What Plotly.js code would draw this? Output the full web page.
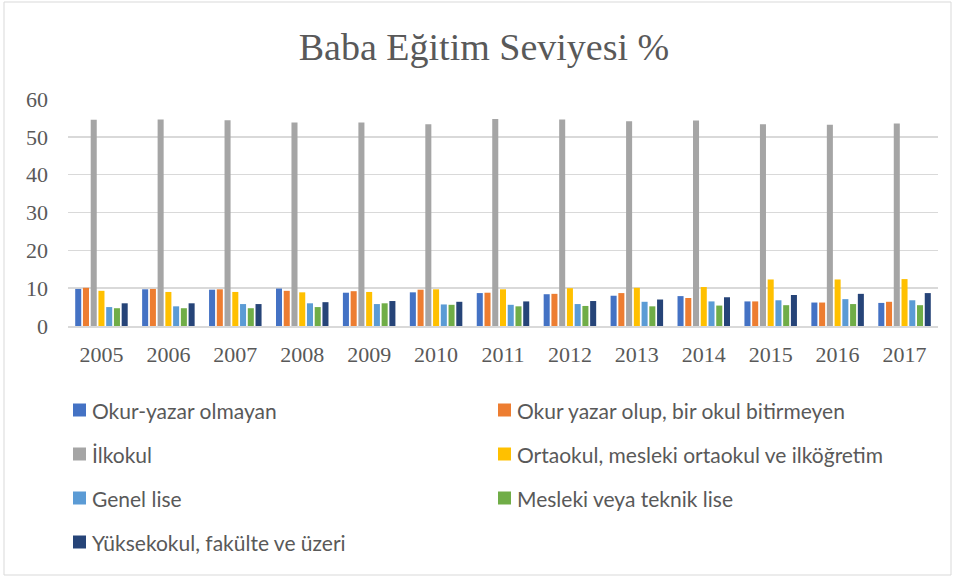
<!DOCTYPE html>
<html>
<head>
<meta charset="utf-8">
<script src="https://cdn.plot.ly/plotly-3.0.1.min.js"></script>
<style>
html,body{margin:0;padding:0;background:#fff;}
#chart{width:955px;height:578px;}
</style>
</head>
<body>
<div id="chart"></div>
<script>
const years = ['2005','2006','2007','2008','2009','2010','2011','2012','2013','2014','2015','2016','2017'];
const seriesNames = [
  'Okur-yazar olmayan',
  'Okur yazar olup, bir okul bitirmeyen',
  'İlkokul',
  'Ortaokul, mesleki ortaokul ve ilköğretim',
  'Genel lise',
  'Mesleki veya teknik lise',
  'Yüksekokul, fakülte ve üzeri'
];
const okurYazarOlmayan = [9.8, 9.7, 9.6, 9.9, 8.8, 8.9, 8.7, 8.4, 8.0, 7.9, 6.5, 6.2, 6.1];
const okulBitirmeyen   = [10.1, 9.8, 9.7, 9.3, 9.2, 9.6, 8.8, 8.5, 8.7, 7.4, 6.5, 6.2, 6.4];
const ilkokul          = [54.5, 54.6, 54.4, 53.8, 53.8, 53.3, 54.7, 54.6, 54.1, 54.3, 53.3, 53.2, 53.5];
const ortaokul         = [9.3, 9.0, 9.0, 8.9, 9.0, 9.7, 9.7, 10.0, 10.1, 10.3, 12.3, 12.3, 12.4];
const genelLise        = [5.0, 5.2, 5.8, 6.0, 5.8, 5.7, 5.6, 5.8, 6.4, 6.5, 6.8, 7.1, 6.8];
const meslekiLise      = [4.7, 4.7, 4.7, 5.0, 6.0, 5.6, 5.2, 5.3, 5.2, 5.4, 5.5, 5.8, 5.5];
const yuksekokul       = [6.0, 6.0, 5.8, 6.3, 6.6, 6.4, 6.5, 6.6, 7.0, 7.6, 8.2, 8.5, 8.7];
const yTicks = [0, 10, 20, 30, 40, 50, 60];

const seriesValues = [okurYazarOlmayan, okulBitirmeyen, ilkokul, ortaokul, genelLise, meslekiLise, yuksekokul];
const colors = ['#4472C4', '#ED7D31', '#A5A5A5', '#FFC000', '#5B9BD5', '#70AD47', '#264478'];

const traces = seriesNames.map((name, i) => ({
  type: 'bar',
  name: name,
  x: years,
  y: seriesValues[i],
  marker: {color: colors[i], line: {width: 0}},
  showlegend: false,
  hoverinfo: 'x+y+name'
}));

// Plot area in pixels
const L = 68, R = 938, T = 99, B = 326;
const W = R - L, H = B - T;
const px = v => (v - L) / W;
const py = v => (B - v) / H;

const legendCols = [73, 498];
const legendRows = [410, 454, 498, 542];
const shapes = [];
const annotations = [];
seriesNames.forEach((name, i) => {
  const cx = legendCols[i % 2];
  const cy = legendRows[Math.floor(i / 2)];
  shapes.push({
    type: 'rect', xref: 'paper', yref: 'paper',
    x0: px(cx), x1: px(cx + 13), y0: py(cy + 6.5), y1: py(cy - 6.5),
    fillcolor: colors[i], line: {width: 0}
  });
  annotations.push({
    xref: 'paper', yref: 'paper', x: px(cx + 17), y: py(cy),
    xanchor: 'left', yanchor: 'middle', showarrow: false,
    text: name,
    font: {family: 'Lato, "Liberation Sans", sans-serif', size: 21, color: '#595959'}
  });
});
// outer chart border
shapes.push({
  type: 'rect', xref: 'paper', yref: 'paper',
  x0: px(4), x1: px(951), y0: py(575), y1: py(2),
  line: {color: '#D9D9D9', width: 1}, fillcolor: 'rgba(0,0,0,0)', layer: 'below'
});

const serif = '"Liberation Serif", "Times New Roman", serif';
const layout = {
  width: 955, height: 578,
  margin: {l: L, r: 955 - R, t: T, b: 578 - B, pad: 0},
  paper_bgcolor: '#ffffff', plot_bgcolor: '#ffffff',
  title: {
    text: 'Baba Eğitim Seviyesi %',
    font: {family: serif, size: 38, color: '#595959'},
    x: 484 / 955, xanchor: 'center', xref: 'container',
    y: 1 - 47 / 578, yanchor: 'middle', yref: 'container'
  },
  barmode: 'group',
  bargap: 0.19,
  bargroupgap: 0.22,
  xaxis: {
    type: 'category',
    tickfont: {family: serif, size: 22, color: '#595959'},
    showgrid: false, showline: true, linecolor: '#D9D9D9', linewidth: 1.5,
    ticks: '', ticklabelstandoff: 8,
    zeroline: false
  },
  yaxis: {
    range: [0, 60], tickvals: yTicks, ticktext: yTicks.map(String),
    tickfont: {family: serif, size: 22, color: '#595959'},
    showgrid: true, gridcolor: '#D9D9D9', gridwidth: 1.5,
    showline: false, zeroline: false, ticks: '', ticklabelstandoff: 19
  },
  showlegend: false,
  shapes: shapes,
  annotations: annotations
};

Plotly.newPlot('chart', traces, layout, {displayModeBar: false, staticPlot: true});
</script>
</body>
</html>
